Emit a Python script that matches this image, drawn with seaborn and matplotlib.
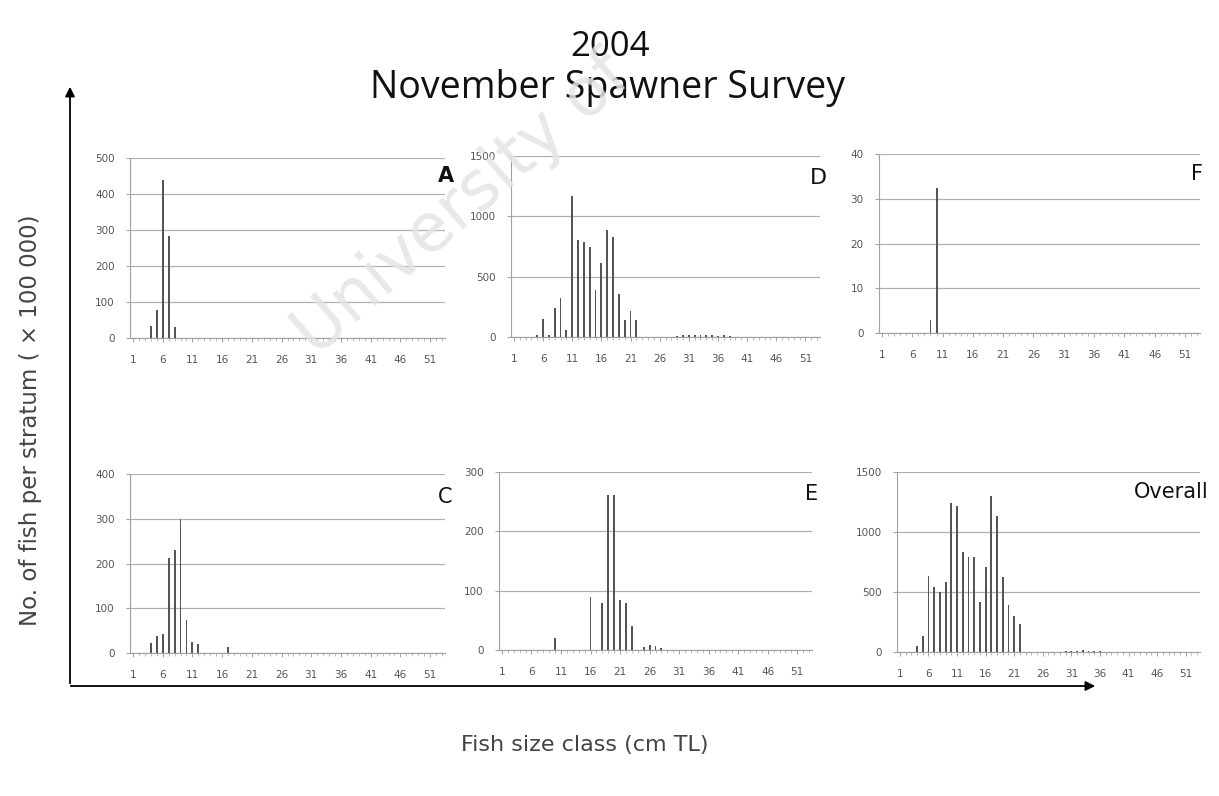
import numpy as np
import pandas as pd
import matplotlib
matplotlib.use("Agg")
import matplotlib.pyplot as plt
from matplotlib.patches import FancyArrowPatch
import seaborn as sns

# ---------------- data ----------------
size_classes = list(range(1, 54))          # fish size classes (cm TL)
tick_labels = ["1", "6", "11", "16", "21", "26", "31", "36", "41", "46", "51"]

# nonzero values per panel: (class, value)
A_classes = [4, 5, 6, 7, 8]
A_values = [32, 77, 440, 284, 30]

D_classes = [5, 6, 7, 8, 9, 10, 11, 12, 13, 14, 15, 16, 17, 18, 19, 20, 21, 22,
             29, 30, 31, 32, 33, 34, 35, 36, 37, 38]
D_values = [15, 146, 20, 240, 323, 60, 1168, 801, 787, 750, 392, 613, 884, 830, 360, 140, 213, 140,
            12, 15, 18, 15, 20, 15, 18, 12, 15, 10]

F_classes = [9, 10]
F_values = [3, 32.5]

C_classes = [4, 5, 6, 7, 8, 9, 10, 11, 12, 17]
C_values = [22, 39, 42, 213, 230, 300, 73, 24, 20, 14]

E_classes = [10, 16, 18, 19, 20, 21, 22, 23, 25, 26, 27, 28]
E_values = [20, 90, 80, 261, 261, 85, 80, 40, 5, 8, 6, 4]

O_classes = [4, 5, 6, 7, 8, 9, 10, 11, 12, 13, 14, 15, 16, 17, 18, 19, 20, 21, 22,
             30, 31, 32, 33, 34, 35, 36]
O_values = [50, 134, 634, 539, 503, 580, 1243, 1215, 830, 790, 790, 413, 712, 1304, 1131, 623, 391, 299, 237,
            8, 10, 12, 20, 10, 12, 8]

panel_names = ["A", "D", "F", "C", "E", "Overall"]
panel_ymax = [500, 1500, 40, 400, 300, 1500]
panel_ystep = [100, 500, 10, 100, 100, 500]

title_year = "2004"
title_main = "November Spawner Survey"
y_label = "No. of fish per stratum ( \u00d7 100 000)"
x_label = "Fish size class (cm TL)"
watermark = "University of"


def full_series(classes, values):
    s = pd.Series(0.0, index=size_classes)
    for c, v in zip(classes, values):
        s[c] = v
    return s


series = [full_series(A_classes, A_values), full_series(D_classes, D_values),
          full_series(F_classes, F_values), full_series(C_classes, C_values),
          full_series(E_classes, E_values), full_series(O_classes, O_values)]

# ---------------- layout ----------------
W, H = 1219, 796
sns.set_theme(style="white")
plt.rcParams["font.family"] = ["DejaVu Sans"]

fig = plt.figure(figsize=(W / 100, H / 100), dpi=100)
fig.patch.set_facecolor("white")


def rect(l, r, t, b):
    return [l / W, 1 - b / H, (r - l) / W, (b - t) / H]


rects = [rect(130, 445, 158, 338), rect(511, 820, 156, 337), rect(879, 1200, 154, 333),
         rect(130, 445, 474, 653), rect(499, 812, 472, 650), rect(897, 1200, 472, 652)]

label_pos = [(454, 182, "bold", 15), (827, 184, "normal", 16), (1203, 180, "normal", 15),
             (452, 503, "normal", 15), (818, 500, "normal", 15), (1209, 498, "normal", 15)]

for i, (rc, s) in enumerate(zip(rects, series)):
    ax = fig.add_axes(rc)
    ax.set_facecolor("none")
    df = pd.DataFrame({"cls": [str(c) for c in size_classes], "n": s.values})
    sns.barplot(data=df, x="cls", y="n", ax=ax, color="#555555", width=0.32,
                saturation=1, edgecolor="none", order=[str(c) for c in size_classes])
    ax.set_xlim(-0.5, len(size_classes) - 0.5)
    ax.set_ylim(0, panel_ymax[i])
    yt = np.arange(0, panel_ymax[i] + 0.1, panel_ystep[i])
    ax.set_yticks(yt)
    ax.set_yticklabels([f"{int(v)}" for v in yt])
    ax.set_xticks([int(t) - 1 for t in tick_labels])
    ax.set_xticklabels(tick_labels)
    ax.set_xticks(range(len(size_classes)), minor=True)
    ax.set_xlabel("")
    ax.set_ylabel("")
    ax.yaxis.grid(True, color="#b0b0b0", linewidth=0.9)
    ax.set_axisbelow(True)
    for sp in ["top", "right"]:
        ax.spines[sp].set_visible(False)
    for sp in ["left", "bottom"]:
        ax.spines[sp].set_color("#a0a0a0")
        ax.spines[sp].set_linewidth(0.8)
    ax.tick_params(axis="both", which="major", labelsize=7.5, labelcolor="#555555",
                   color="#a0a0a0", length=3, width=0.7, direction="out",
                   bottom=True, left=True)
    ax.tick_params(axis="x", which="major", pad=9)
    ax.tick_params(axis="y", which="major", pad=8)
    ax.tick_params(axis="x", which="minor", length=2, color="#b0b0b0", width=0.6, bottom=True)
    x, y, wgt, sz = label_pos[i]
    fig.text(x / W, 1 - y / H, panel_names[i], ha="right", va="baseline",
             fontsize=sz, fontweight=wgt, color="#111111")

# titles
fig.text(610 / W, 1 - 56 / H, title_year, ha="center", va="baseline", fontsize=25,
         family=["Open Sans", "DejaVu Sans"], color="#111111")
fig.text(607 / W, 1 - 98 / H, title_main, ha="center", va="baseline", fontsize=27,
         family=["Open Sans", "DejaVu Sans"], color="#111111")

# axis labels
fig.text(31 / W, 1 - 420 / H, y_label, rotation=90, ha="center", va="center",
         fontsize=16.5, color="#444444")
fig.text(585 / W, 1 - 745 / H, x_label, ha="center", va="center",
         fontsize=16, color="#444444")

# big arrows
fig.add_artist(FancyArrowPatch((70 / W, 1 - 686 / H), (70 / W, 1 - 84 / H),
                               transform=fig.transFigure, arrowstyle="-|>",
                               mutation_scale=14, color="black", lw=1.3))
fig.add_artist(FancyArrowPatch((68 / W, 1 - 686 / H), (1098 / W, 1 - 686 / H),
                               transform=fig.transFigure, arrowstyle="-|>",
                               mutation_scale=14, color="black", lw=1.3))

# watermark
fig.text(462 / W, 1 - 205 / H, watermark, rotation=41,
         rotation_mode="anchor", ha="center", va="center", fontsize=48,
         color="#e4e4e4", alpha=0.85, zorder=10)

fig.savefig("out.png", dpi=100, facecolor="white")
